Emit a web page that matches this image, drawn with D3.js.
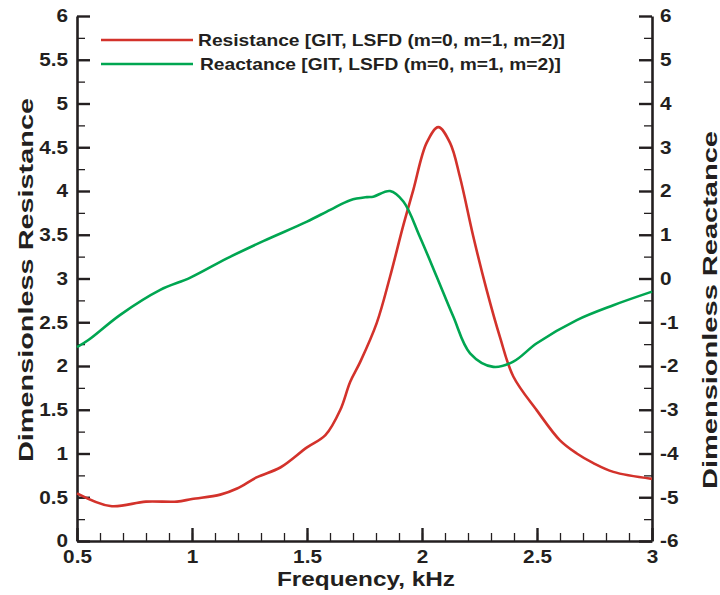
<!DOCTYPE html>
<html>
<head>
<meta charset="utf-8">
<script src="https://cdn.jsdelivr.net/npm/d3@7"></script>
<style>
  body { margin: 0; background: #fff; }
  text { font-family: "Liberation Sans", Arial, sans-serif; font-weight: bold; fill: #231f20; }
</style>
</head>
<body>
<div id="chart"></div>
<script>
// frequency samples (kHz) and values
var resFreq = [0.5, 0.645, 0.8, 0.935, 1.0, 1.123, 1.196, 1.283, 1.384, 1.5, 1.58, 1.645, 1.688, 1.732,
	1.803, 1.861, 1.919, 1.962, 2.02, 2.071, 2.122, 2.165, 2.223, 2.281, 2.339, 2.397, 2.5,
	2.6, 2.673, 2.745, 2.832, 3.0];
var resistance = [0.545, 0.40, 0.45, 0.45, 0.48, 0.53, 0.60, 0.73, 0.84, 1.07, 1.21, 1.50, 1.82, 2.05,
	2.49, 3.02, 3.61, 4.01, 4.55, 4.73, 4.55, 4.16, 3.48, 2.87, 2.33, 1.88, 1.49,
	1.15, 1.00, 0.89, 0.79, 0.71];

var reaFreq = [0.5, 0.551, 0.688, 0.862, 0.993, 1.152, 1.312, 1.5, 1.601, 1.688, 1.761, 1.788, 1.861,
	1.919, 1.991, 2.064, 2.136, 2.209, 2.31, 2.397, 2.499, 2.673, 2.832, 3.0];
var reactance = [-1.57, -1.40, -0.83, -0.26, 0.02, 0.46, 0.86, 1.30, 1.57, 1.79, 1.86, 1.87, 2.0,
	1.76, 0.95, 0.04, -0.87, -1.71, -2.02, -1.90, -1.48, -0.95, -0.61, -0.30];

var xTicks = [0.5, 1, 1.5, 2, 2.5, 3];
var leftTicks = [0, 0.5, 1, 1.5, 2, 2.5, 3, 3.5, 4, 4.5, 5, 5.5, 6];
var rightTicks = [-6, -5, -4, -3, -2, -1, 0, 1, 2, 3, 4, 5, 6];

var seriesNames = ["Resistance [GIT, LSFD (m=0, m=1, m=2)]", "Reactance [GIT, LSFD (m=0, m=1, m=2)]"];
var seriesColors = ["#d3322b", "#00a651"];

var width = 720, height = 595,
	plotLeft = 77, plotRight = 652, plotTop = 16, plotBottom = 541;

var svg = d3.select("#chart").append("svg")
	.attr("width", width)
	.attr("height", height);

var x = d3.scaleLinear().domain([0.5, 3]).range([plotLeft, plotRight]);
var yL = d3.scaleLinear().domain([0, 6]).range([plotBottom, plotTop]);
var yR = d3.scaleLinear().domain([-6, 6]).range([plotBottom, plotTop]);

var axisColor = "#231f20";
var plain = d => String(d);   // keeps the ascii hyphen for negatives

// the reference font runs a bit wider than Liberation Sans, so stretch the text
function widen(sel, k) {
	sel.each(function() {
		var w = this.getComputedTextLength();
		d3.select(this).attr("textLength", w * k).attr("lengthAdjust", "spacingAndGlyphs");
	});
}

function styleAxis(g) {
	g.select(".domain").attr("stroke", axisColor).attr("stroke-width", 2.6);
	g.selectAll(".tick line").attr("stroke", axisColor).attr("stroke-width", 2.4);
	g.selectAll(".tick text").style("font-size", "18.5px").attr("fill", axisColor);
}

// minor ticks first, under the major ones
svg.append("g")
	.attr("transform", "translate(0," + plotBottom + ")")
	.call(d3.axisTop(x).tickValues(d3.range(0.5, 3.001, 0.1)).tickSize(8).tickFormat(""))
	.call(g => g.select(".domain").remove())
	.call(g => g.selectAll(".tick line").attr("stroke", axisColor).attr("stroke-width", 1.3));

svg.append("g")
	.attr("transform", "translate(" + plotLeft + ",0)")
	.call(d3.axisRight(yL).tickValues(d3.range(0.25, 6, 0.5)).tickSize(8).tickFormat(""))
	.call(g => g.select(".domain").remove())
	.call(g => g.selectAll(".tick line").attr("stroke", axisColor).attr("stroke-width", 1.3));

svg.append("g")
	.attr("transform", "translate(" + plotRight + ",0)")
	.call(d3.axisLeft(yR).tickValues(d3.range(-5.5, 6, 1)).tickSize(8).tickFormat(""))
	.call(g => g.select(".domain").remove())
	.call(g => g.selectAll(".tick line").attr("stroke", axisColor).attr("stroke-width", 1.3));

// major axes
var xAxis = svg.append("g")
	.attr("transform", "translate(0," + plotBottom + ")")
	.call(d3.axisTop(x).tickValues(xTicks).tickSize(13).tickSizeOuter(0).tickFormat(plain))
	.call(styleAxis);
xAxis.selectAll(".tick text").attr("y", 9).attr("dy", "0.71em").call(widen, 1.12);

var lAxis = svg.append("g")
	.attr("transform", "translate(" + plotLeft + ",0)")
	.call(d3.axisRight(yL).tickValues(leftTicks).tickSize(13).tickSizeOuter(0).tickFormat(plain))
	.call(styleAxis);
lAxis.selectAll(".tick text").attr("x", -9).attr("text-anchor", "end").call(widen, 1.12);

var rAxis = svg.append("g")
	.attr("transform", "translate(" + plotRight + ",0)")
	.call(d3.axisLeft(yR).tickValues(rightTicks).tickSize(13).tickSizeOuter(0).tickFormat(plain))
	.call(styleAxis);
rAxis.selectAll(".tick text").attr("x", 8).attr("text-anchor", "start").call(widen, 1.12);

// curves
var resLine = d3.line()
	.x((d, i) => x(resFreq[i]))
	.y(d => yL(d))
	.curve(d3.curveCatmullRom.alpha(0.5));

var reaLine = d3.line()
	.x((d, i) => x(reaFreq[i]))
	.y(d => yR(d))
	.curve(d3.curveCatmullRom.alpha(0.5));

svg.append("path")
	.attr("d", resLine(resistance))
	.attr("fill", "none")
	.attr("stroke", seriesColors[0])
	.attr("stroke-width", 2.6);

svg.append("path")
	.attr("d", reaLine(reactance))
	.attr("fill", "none")
	.attr("stroke", seriesColors[1])
	.attr("stroke-width", 2.6);

// legend
var legend = svg.selectAll(".legend")
	.data(seriesNames)
	.enter().append("g")
	.attr("class", "legend")
	.attr("transform", (d, i) => "translate(101," + (40 + i * 24) + ")");

legend.append("line")
	.attr("x1", 0).attr("x2", 92)
	.attr("stroke", (d, i) => seriesColors[i])
	.attr("stroke-width", 2.6);

legend.append("text")
	.attr("x", (d, i) => i == 0 ? 97 : 99)
	.attr("dy", "0.35em")
	.style("font-size", "16.5px")
	.attr("textLength", (d, i) => i == 0 ? 367 : 361)
	.attr("lengthAdjust", "spacingAndGlyphs")
	.text(d => d);

// axis titles
svg.append("text")
	.attr("x", 366)
	.attr("y", 586)
	.attr("text-anchor", "middle")
	.style("font-size", "20px")
	.attr("textLength", 178)
	.attr("lengthAdjust", "spacingAndGlyphs")
	.text("Frequency, kHz");

svg.append("text")
	.attr("transform", "translate(33,280) rotate(-90)")
	.attr("text-anchor", "middle")
	.style("font-size", "20px")
	.attr("textLength", 364)
	.attr("lengthAdjust", "spacingAndGlyphs")
	.text("Dimensionless Resistance");

svg.append("text")
	.attr("transform", "translate(717,310) rotate(-90)")
	.attr("text-anchor", "middle")
	.style("font-size", "20px")
	.attr("textLength", 358)
	.attr("lengthAdjust", "spacingAndGlyphs")
	.text("Dimensionless Reactance");
</script>
</body>
</html>
